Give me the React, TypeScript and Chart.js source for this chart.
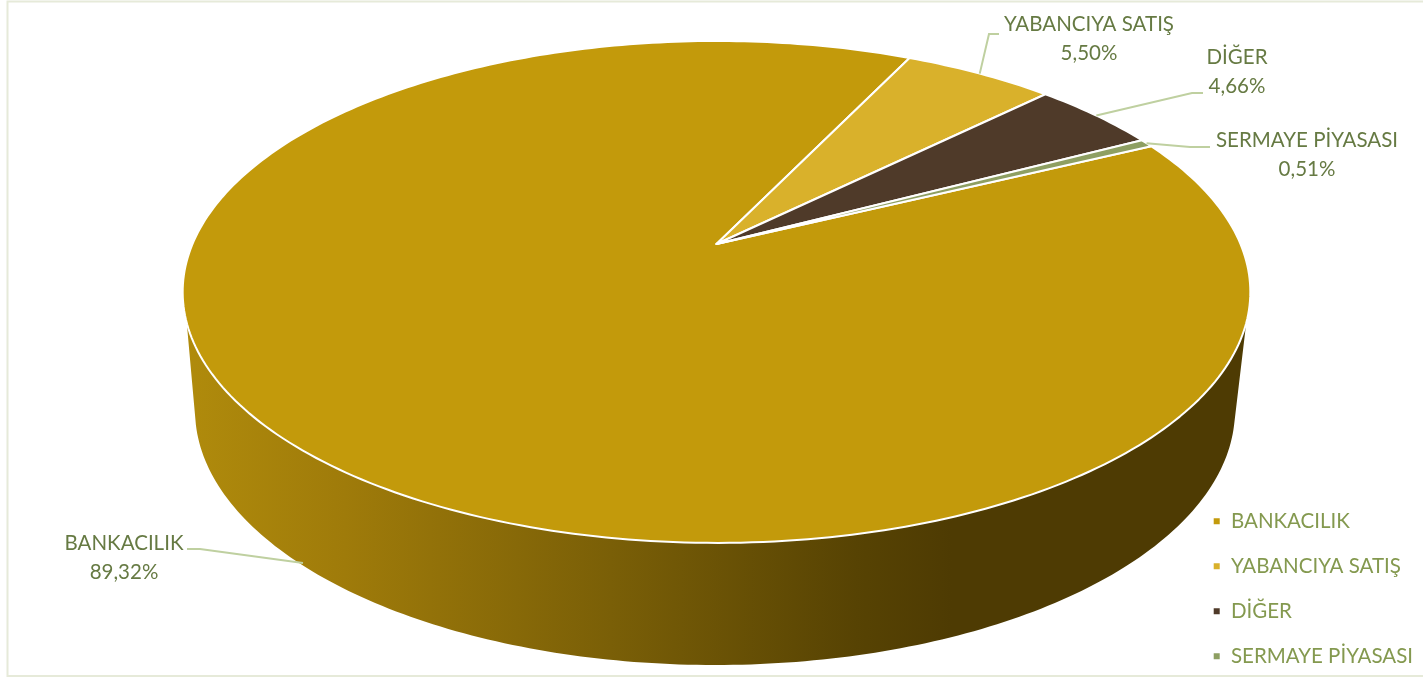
import React, { useEffect, useRef } from "react";
import { Chart, PieController, ArcElement, Legend } from "chart.js";

const categories = ["BANKACILIK", "YABANCIYA SATIŞ", "DİĞER", "SERMAYE PİYASASI"];
const shares = [89.32, 5.5, 4.66, 0.51];
const sliceColors = ["#c39a0b", "#d9b12b", "#4f3a29", "#8e9f62"];

const FONT = "Lato, Carlito, sans-serif";
const FONT_SIZE = 20.5;
const LABEL_COLOR = "#667a43";
const LEGEND_COLOR = "#84994f";
const LEADER_COLOR = "#bfd0a0";
const FRAME_COLOR = "#e6ead9";

// Perspective projection of the unit disc onto the pie's top face
const APEX_X = 716.5;
const APEX_Y = 244;
const SCALE_X = 524;
const SCALE_Y = 195.2;
const PERSPECTIVE = -0.191;
// Lower rim of the side wall
const RIM_CX = 715;
const RIM_CY = 410;
const RIM_RX = 520;
const RIM_RY = 255;
const WALL_TOP_START = (17.9 * Math.PI) / 180;
const WALL_TOP_END = (162.1 * Math.PI) / 180;
const WALL_RIM_START = (3.4 * Math.PI) / 180;
const WALL_RIM_END = (176.6 * Math.PI) / 180;

function project(a: number): [number, number] {
  const x = Math.cos(a);
  const y = Math.sin(a);
  const w = 1 + PERSPECTIVE * y;
  return [APEX_X + (SCALE_X * x) / w, (APEX_Y + SCALE_Y * y) / w];
}

function rimPoint(a: number): [number, number] {
  return [RIM_CX + RIM_RX * Math.cos(a), RIM_CY + RIM_RY * Math.sin(a)];
}

function traceSpan(ctx: CanvasRenderingContext2D, from: number, to: number, fn: (a: number) => [number, number], move: boolean) {
  const steps = Math.max(2, Math.ceil((Math.abs(to - from) * 180) / Math.PI));
  for (let i = 0; i <= steps; i++) {
    const [x, y] = fn(from + ((to - from) * i) / steps);
    if (i === 0 && move) ctx.moveTo(x, y);
    else ctx.lineTo(x, y);
  }
}

class ProjectedArc extends ArcElement {
  static id = "projectedArc";
  draw(ctx: CanvasRenderingContext2D) {
    const self = this as any;
    const { startAngle, endAngle } = self.getProps(["startAngle", "endAngle"]);
    const options = self.options;
    ctx.save();
    const lo = Math.max(startAngle, WALL_TOP_START);
    const hi = Math.min(endAngle, WALL_TOP_END);
    if (lo < hi) {
      const g = ctx.createLinearGradient(185, 0, 1250, 0);
      g.addColorStop(0, "#b08b0c");
      g.addColorStop(0.15, "#9f7b0a");
      g.addColorStop(0.4, "#7a5f07");
      g.addColorStop(0.63, "#574303");
      g.addColorStop(0.72, "#4e3b03");
      g.addColorStop(1, "#4e3b03");
      ctx.beginPath();
      traceSpan(ctx, lo, hi, project, true);
      traceSpan(ctx, WALL_RIM_END, WALL_RIM_START, rimPoint, false);
      ctx.closePath();
      ctx.fillStyle = g;
      ctx.fill();
    }
    ctx.beginPath();
    ctx.moveTo(APEX_X, APEX_Y);
    traceSpan(ctx, startAngle, endAngle, project, false);
    ctx.closePath();
    ctx.fillStyle = options.backgroundColor;
    ctx.fill();
    ctx.strokeStyle = options.borderColor;
    ctx.lineWidth = options.borderWidth;
    ctx.lineJoin = "round";
    ctx.stroke();
    ctx.restore();
  }
}

class ProjectedPie extends PieController {
  static id = "projectedPie";
  static defaults = { dataElementType: "projectedArc" };
}

// Label centres, line baselines' midpoints and leader elbows
const labelLayout = [
  { x: 124, y: 543, gap: 29, anchor: [303, 563], elbow: [[200, 549], [187, 549]] },
  { x: 1089, y: 24, gap: 29, elbow: [[989, 34], [999, 34]] },
  { x: 1237, y: 57, gap: 29, elbow: [[1192, 93], [1203, 93]] },
  { x: 1307, y: 140, gap: 29, elbow: [[1190, 147], [1210, 147]] },
];

const labelsPlugin = {
  id: "pieLabels",
  beforeDraw(chart: any) {
    const ctx = chart.ctx;
    ctx.save();
    ctx.strokeStyle = FRAME_COLOR;
    ctx.lineWidth = 2;
    ctx.strokeRect(7.5, 1.5, 1600, 674.5);
    ctx.restore();
  },
  afterDatasetsDraw(chart: any) {
    const ctx = chart.ctx;
    const arcs = chart.getDatasetMeta(0).data;
    ctx.save();
    ctx.font = `${FONT_SIZE}px ${FONT}`;
    ctx.textAlign = "center";
    ctx.textBaseline = "middle";
    categories.forEach((name, i) => {
      const l: any = labelLayout[i];
      const { startAngle, endAngle } = arcs[i];
      const start = l.anchor || project((startAngle + endAngle) / 2);
      ctx.beginPath();
      ctx.moveTo(start[0], start[1]);
      l.elbow.forEach((p: number[]) => ctx.lineTo(p[0], p[1]));
      ctx.strokeStyle = LEADER_COLOR;
      ctx.lineWidth = 2;
      ctx.stroke();
      ctx.fillStyle = LABEL_COLOR;
      ctx.fillText(name, l.x, l.y);
      ctx.fillText(shares[i].toFixed(2).replace(".", ",") + "%", l.x, l.y + l.gap);
    });
    ctx.restore();
  },
};

Chart.register(ProjectedPie, ProjectedArc, Legend);

export default function App() {
  const ref = useRef<HTMLCanvasElement>(null);
  useEffect(() => {
    const chart = new Chart(ref.current!, {
      type: "projectedPie" as any,
      data: {
        labels: categories,
        datasets: [
          {
            data: shares,
            backgroundColor: sliceColors,
            borderColor: "#ffffff",
            borderWidth: 2,
            clip: false,
          } as any,
        ],
      },
      options: {
        animation: false,
        responsive: false,
        maintainAspectRatio: false,
        rotation: 64,
        events: [],
        layout: { padding: { right: 0, bottom: -13 } },
        plugins: {
          tooltip: { enabled: false },
          legend: {
            display: true,
            position: "right",
            align: "end",
            labels: {
              boxWidth: 8,
              boxHeight: 8,
              padding: 24.5,
              color: LEGEND_COLOR,
              font: { family: FONT, size: FONT_SIZE },
            },
          },
        },
      } as any,
      plugins: [labelsPlugin],
    });
    return () => chart.destroy();
  }, []);
  return (
    <canvas
      ref={ref}
      width={1423}
      height={678}
      style={{ position: "fixed", left: 0, top: 0, display: "block", width: 1423, height: 678, background: "#fff" }}
    />
  );
}
